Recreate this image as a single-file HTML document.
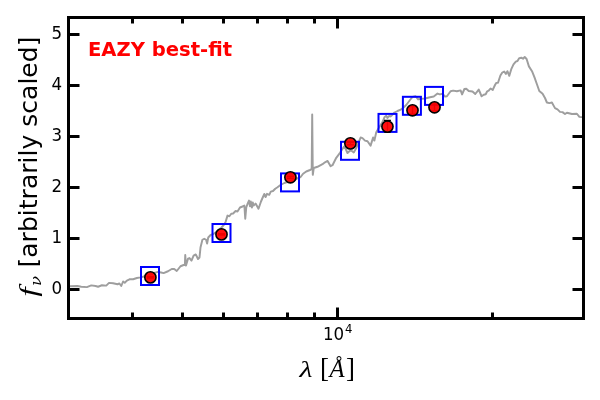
<!DOCTYPE html>
<html><head><meta charset="utf-8"><title>EAZY best-fit</title>
<style>
html,body{margin:0;padding:0;background:#fff;}
body{width:600px;height:400px;overflow:hidden;}
svg{display:block;}
text{font-family:"DejaVu Sans","Liberation Sans",sans-serif;fill:#000;}
.tl{font-size:16.67px;}
.ma{stroke:#000;stroke-width:3;}
.mi{stroke:#000;stroke-width:3;}
.sq{fill:none;stroke:#0000ff;stroke-width:2;}
.ci{fill:#ff0000;fill-opacity:0.94;stroke:#000;stroke-width:1.6;}
.sed{fill:none;stroke:#9e9e9e;stroke-width:1.95;stroke-linejoin:round;stroke-linecap:butt;}
.math{font-family:"Liberation Serif","DejaVu Serif",serif;}
</style></head><body>
<svg width="600" height="400" viewBox="0 0 600 400">
<rect x="0" y="0" width="600" height="400" fill="#fff"/>
<clipPath id="ax"><rect x="68.5" y="17.5" width="515.0" height="301.0"/></clipPath>
<g clip-path="url(#ax)">
<polyline class="sed" points="68.5,286.3 70,286.25 77.5,286 81.25,286.75 86.9,287.1 91.25,285.4 95.6,286 98.1,286.75 101.9,285.25 106.25,285.6 109,282.9 113.1,283.25 117.5,284.25 119.4,283.5 121.25,286 123.1,281.5 124.75,282.75 126.9,280.6 130,279.1 133.1,279.25 136.9,278 140.5,277.4 145,276.2 150,274.5 154,273 158,271.9 161.1,272.5 163.6,273.1 168,271.25 171.75,269 174.25,269 176.75,271 180.5,266.25 183.6,265 184.9,264.75 185.25,255 186,265.6 188,258.75 189.5,258.1 191.5,260.6 193.6,255.6 195.75,254.4 198,259 199.5,257.5 200.5,247.5 202.4,239.75 204.25,238.75 206.1,239.75 207.1,243.5 208.25,237.5 210.6,235 213,234.2 217,231.5 221,228 223.75,225 225.6,221.9 227.5,215.6 229.4,216.25 231.25,213.75 233.1,213.5 235.6,211 237.5,211.5 240,207.5 242.5,206.5 244.4,205.6 245.25,218.75 246.25,207.5 247.5,204 249,200.6 250,206.3 250.8,201.5 251.9,207.5 252.8,202.5 253.6,205.5 255.6,203.6 258.5,208.75 261,201.5 262.5,198 264.3,194 265.6,197 267,193.8 269.25,194.8 270.75,191.6 273,191 275.25,188.7 277.5,187.2 280.5,185 284.4,183 290,181 295,179.3 300.6,177 303.1,173.75 306.25,171.5 310,170 311.7,169.2 312.2,114.4 312.8,174.8 313.75,168 317.5,166.8 322.5,164.2 325,162.3 327.6,160.9 330.6,166.2 332.5,165.2 336.25,157.8 340,152.8 343.75,146.9 345.6,148.75 347.5,153.1 350.6,150 353.75,152.5 356.25,148.1 358.1,143.75 360.6,137.5 362.5,138.1 365,140.6 367.5,141.25 370.6,145.6 373.1,137.5 374.4,140.6 376.25,132.2 378.75,128 382.5,122 384.5,117.2 386.25,115.6 387.5,118 389,116 390.5,116.4 392,115.2 394.5,112.5 397.5,111 401.25,109.4 406.25,105 410,100 412.5,96.9 415.6,96.25 418.1,99.4 421.25,98.75 425,98.5 430,97.25 433.75,96.5 437.5,93.6 440,94.4 442.5,93.75 445,96.6 446.9,96.25 450.6,91.25 453.1,90.6 456.9,91.25 460.6,90.4 462.1,94.4 464.4,89 466.25,88.75 468.75,91 472.5,91.5 475.25,94 478.75,89.6 480,92.5 481.6,96.3 483.75,94.75 485.7,94.2 487.2,91.3 488.7,90.7 490.5,88.5 492.75,89.9 495,85 496.2,82.9 498,82.7 500.4,75.5 502.3,72.5 504.2,71.5 505.9,73.9 507.4,71.2 509.3,75.8 511.4,68.8 513.5,64.4 515.8,61.6 517.5,61 519.3,58.1 521.25,57.7 523,58.7 524.7,57 526.6,59 528.9,66.4 532,71.2 534.5,77.4 537.2,85 539.3,91 542.6,93.8 545,98 546.9,102.5 549.4,103.1 551.9,102.5 555,108.1 557.5,109.4 560,111.9 562.5,112.1 565,114 566.9,112.75 571.9,114 576.9,113.75 579.4,116.9 583.5,117.4"/>
<rect x="141" y="267" width="18" height="18" class="sq"/>
<rect x="212.5" y="224" width="18" height="18" class="sq"/>
<rect x="281" y="173.4" width="18" height="18" class="sq"/>
<rect x="341" y="141.8" width="18" height="18" class="sq"/>
<rect x="378.5" y="113.9" width="18" height="18" class="sq"/>
<rect x="402.9" y="96.8" width="18" height="18" class="sq"/>
<rect x="425" y="86.9" width="18" height="18" class="sq"/>
<path d="M150.4 276.79999999999995V278.0M146.9 276.79999999999995h7M146.9 278.0h7" stroke="#000" stroke-width="1.4" fill="none"/>
<path d="M221.5 233.8V235.0M218.0 233.8h7M218.0 235.0h7" stroke="#000" stroke-width="1.4" fill="none"/>
<path d="M290.4 176.3V178.3M286.9 176.3h7M286.9 178.3h7" stroke="#000" stroke-width="1.4" fill="none"/>
<path d="M350.4 142.0V144.8M346.9 142.0h7M346.9 144.8h7" stroke="#000" stroke-width="1.4" fill="none"/>
<path d="M387.45 120.39999999999999V131.79999999999998M383.95 120.39999999999999h7M383.95 131.79999999999998h7" stroke="#000" stroke-width="1.4" fill="none"/>
<path d="M412.5 106.5V114.1M409.0 106.5h7M409.0 114.1h7" stroke="#000" stroke-width="1.4" fill="none"/>
<path d="M434.5 103.89999999999999V110.7M431.0 103.89999999999999h7M431.0 110.7h7" stroke="#000" stroke-width="1.4" fill="none"/>
<circle cx="150.4" cy="277.4" r="5.6" class="ci"/>
<circle cx="221.5" cy="234.4" r="5.6" class="ci"/>
<circle cx="290.4" cy="177.3" r="5.6" class="ci"/>
<circle cx="350.4" cy="143.4" r="5.6" class="ci"/>
<circle cx="387.45" cy="126.6" r="5.6" class="ci"/>
<circle cx="412.5" cy="110.3" r="5.6" class="ci"/>
<circle cx="434.5" cy="107.3" r="5.6" class="ci"/>
</g>
<line x1="132.50" y1="318.5" x2="132.50" y2="312.5" class="mi"/>
<line x1="132.50" y1="17.5" x2="132.50" y2="23.5" class="mi"/>
<line x1="182.50" y1="318.5" x2="182.50" y2="312.5" class="mi"/>
<line x1="182.50" y1="17.5" x2="182.50" y2="23.5" class="mi"/>
<line x1="223.50" y1="318.5" x2="223.50" y2="312.5" class="mi"/>
<line x1="223.50" y1="17.5" x2="223.50" y2="23.5" class="mi"/>
<line x1="257.50" y1="318.5" x2="257.50" y2="312.5" class="mi"/>
<line x1="257.50" y1="17.5" x2="257.50" y2="23.5" class="mi"/>
<line x1="287.50" y1="318.5" x2="287.50" y2="312.5" class="mi"/>
<line x1="287.50" y1="17.5" x2="287.50" y2="23.5" class="mi"/>
<line x1="314.50" y1="318.5" x2="314.50" y2="312.5" class="mi"/>
<line x1="314.50" y1="17.5" x2="314.50" y2="23.5" class="mi"/>
<line x1="492.50" y1="318.5" x2="492.50" y2="312.5" class="mi"/>
<line x1="492.50" y1="17.5" x2="492.50" y2="23.5" class="mi"/>
<line x1="337.50" y1="318.5" x2="337.50" y2="307.5" class="ma"/>
<line x1="337.50" y1="17.5" x2="337.50" y2="28.5" class="ma"/>
<line x1="68.5" y1="289.50" x2="79.5" y2="289.50" class="ma"/>
<line x1="583.5" y1="289.50" x2="572.5" y2="289.50" class="ma"/>
<line x1="68.5" y1="238.50" x2="79.5" y2="238.50" class="ma"/>
<line x1="583.5" y1="238.50" x2="572.5" y2="238.50" class="ma"/>
<line x1="68.5" y1="187.50" x2="79.5" y2="187.50" class="ma"/>
<line x1="583.5" y1="187.50" x2="572.5" y2="187.50" class="ma"/>
<line x1="68.5" y1="136.50" x2="79.5" y2="136.50" class="ma"/>
<line x1="583.5" y1="136.50" x2="572.5" y2="136.50" class="ma"/>
<line x1="68.5" y1="85.50" x2="79.5" y2="85.50" class="ma"/>
<line x1="583.5" y1="85.50" x2="572.5" y2="85.50" class="ma"/>
<line x1="68.5" y1="34.50" x2="79.5" y2="34.50" class="ma"/>
<line x1="583.5" y1="34.50" x2="572.5" y2="34.50" class="ma"/>
<rect x="68.5" y="17.5" width="515.0" height="301.0" fill="none" stroke="#000" stroke-width="3"/>
<text transform="translate(62.2,294.40) scale(1,1.09)" text-anchor="end" class="tl">0</text>
<text transform="translate(62.2,243.40) scale(1,1.09)" text-anchor="end" class="tl">1</text>
<text transform="translate(62.2,192.40) scale(1,1.09)" text-anchor="end" class="tl">2</text>
<text transform="translate(62.2,141.40) scale(1,1.09)" text-anchor="end" class="tl">3</text>
<text transform="translate(62.2,90.40) scale(1,1.09)" text-anchor="end" class="tl">4</text>
<text transform="translate(62.2,39.40) scale(1,1.09)" text-anchor="end" class="tl">5</text>
<text x="87.9" y="55.8" style="font-size:19.6px;font-weight:bold;fill:#ff0000;">EAZY best-fit</text>
<text transform="translate(323,340) scale(1,1.07)" class="tl">10</text>
<text transform="translate(345.1,333.2) scale(1,1.05)" style="font-size:11.67px">4</text>
<text transform="translate(299.6,376.9) scale(1.2,0.96)" class="math" font-style="italic" style="font-size:25px;">λ</text>
<text x="320" y="376.7" class="math" style="font-size:27px;">[</text>
<text x="329.6" y="376.9" class="math" font-style="italic" style="font-size:24.6px;">Å</text>
<text x="346" y="376.7" class="math" style="font-size:27px;">]</text>
<g transform="translate(37.2,0) rotate(-90)">
<text transform="translate(-296.8,0) scale(1.3,1)" class="math" font-style="italic" style="font-size:26px;">f</text>
<text transform="translate(-285.9,3.8) scale(1.1,1)" font-style="italic" style="font-family:'DejaVu Serif','Liberation Serif',serif;font-size:15px;">ν</text>
<text x="-267.5" y="0" style="font-size:25.05px;">[arbitrarily scaled]</text>
</g>
</svg>
</body></html>
